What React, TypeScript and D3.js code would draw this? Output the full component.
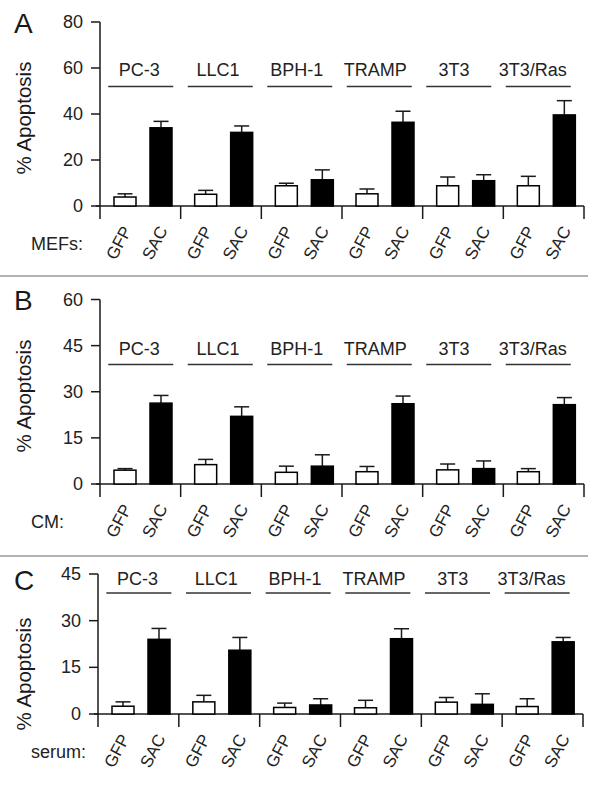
import React from "react";
import * as d3 from "d3";

const groups = ["PC-3", "LLC1", "BPH-1", "TRAMP", "3T3", "3T3/Ras"];
const treatments = ["GFP", "SAC"];
const panelLetters = ["A", "B", "C"];
const rowLabels = ["MEFs:", "CM:", "serum:"];
const yMaxes = [80, 60, 45];
const yTicks = [
  [0, 20, 40, 60, 80],
  [0, 15, 30, 45, 60],
  [0, 15, 30, 45],
];

// Panel A (MEFs)
const aGFP = [3.9, 5.1, 8.8, 5.3, 8.8, 8.8];
const aGFPErr = [1.4, 1.7, 1.1, 2.1, 3.8, 4.1];
const aSAC = [34.0, 32.0, 11.4, 36.4, 11.0, 39.6];
const aSACErr = [2.8, 2.8, 4.3, 4.8, 2.6, 6.2];
// Panel B (CM)
const bGFP = [4.5, 6.3, 3.8, 4.0, 4.6, 4.0];
const bGFPErr = [0.5, 1.7, 2.0, 1.7, 1.9, 1.0];
const bSAC = [26.3, 22.0, 5.8, 26.1, 5.0, 25.8];
const bSACErr = [2.5, 3.1, 3.7, 2.5, 2.5, 2.3];
// Panel C (serum)
const cGFP = [2.5, 3.9, 2.1, 2.0, 3.8, 2.4];
const cGFPErr = [1.4, 2.1, 1.4, 2.4, 1.5, 2.5];
const cSAC = [24.0, 20.5, 2.9, 24.2, 3.1, 23.2];
const cSACErr = [3.5, 4.1, 2.0, 3.2, 3.4, 1.4];

const panelValues = [
  { GFP: aGFP, GFPErr: aGFPErr, SAC: aSAC, SACErr: aSACErr },
  { GFP: bGFP, GFPErr: bGFPErr, SAC: bSAC, SACErr: bSACErr },
  { GFP: cGFP, GFPErr: cGFPErr, SAC: cSAC, SACErr: cSACErr },
];

const layouts = [
  { top: 22, base: 206, x0: 100, x1: 584, letterY: 33, labelY: 76, lineY: 86.5, titleY: 118 },
  { top: 299.5, base: 484, x0: 100, x1: 584, letterY: 310, labelY: 355, lineY: 364.5, titleY: 396 },
  { top: 574, base: 714, x0: 98, x1: 583, letterY: 590, labelY: 585, lineY: 593, titleY: 674 },
];

const FONT = "'Liberation Sans', Arial, sans-serif";
const INK = "#1a1a1a";

function Panel({ idx }: { idx: number }) {
  const L = layouts[idx];
  const vals = panelValues[idx] as any;
  const y = d3.scaleLinear().domain([0, yMaxes[idx]]).range([L.base, L.top]);
  const x = d3.scaleBand<string>().domain(groups).range([L.x0, L.x1]).padding(0);
  const step = x.step();
  const xLabel = d3.scaleBand<string>().domain(groups).range([L.x0, L.x1 - 12]);
  const xLine = d3.scaleBand<string>().domain(groups).range([L.x0 + 1, L.x1 - 6]);
  const inner = d3
    .scaleBand<string>()
    .domain(treatments)
    .range([14, 72])
    .paddingInner(0.389)
    .paddingOuter(0);
  const bw = inner.bandwidth();
  const capW = 15;

  return (
    <g>
      <text x={14} y={L.letterY} fontSize={28} fill={INK} fontFamily={FONT}>
        {panelLetters[idx]}
      </text>
      <g transform={`translate(23,${L.titleY})`}>
        <text
          transform="rotate(-90)"
          textAnchor="middle"
          dominantBaseline="central"
          fontSize={20.5}
          fill={INK}
          fontFamily={FONT}
        >
          % Apoptosis
        </text>
      </g>
      {/* y axis */}
      <line x1={L.x0} x2={L.x0} y1={L.top} y2={L.base + 13} stroke={INK} strokeWidth={1.5} />
      {yTicks[idx].map((t) => (
        <g key={t}>
          <line x1={L.x0 - 9} x2={L.x0} y1={y(t)} y2={y(t)} stroke={INK} strokeWidth={1.5} />
          <text
            x={L.x0 - 17}
            y={y(t)}
            textAnchor="end"
            dominantBaseline="central"
            fontSize={18}
            fill="#222"
            fontFamily={FONT}
          >
            {t}
          </text>
        </g>
      ))}
      {/* x axis */}
      <line x1={L.x0 - 4} x2={L.x1} y1={L.base} y2={L.base} stroke={INK} strokeWidth={1.5} />
      {groups.map((g) => (
        <line
          key={"sep" + g}
          x1={(x(g) as number) + step}
          x2={(x(g) as number) + step}
          y1={L.base}
          y2={L.base + 13}
          stroke={INK}
          strokeWidth={1.5}
        />
      ))}
      {/* group labels */}
      {groups.map((g) => {
        const tx = (xLabel(g) as number) + xLabel.bandwidth() / 2;
        const lx = (xLine(g) as number) + xLine.bandwidth() / 2;
        return (
          <g key={"lab" + g}>
            <text
              x={tx}
              y={L.labelY}
              textAnchor="middle"
              fontSize={18}
              fill="#222"
              fontFamily={FONT}
            >
              {g}
            </text>
            <line
              x1={lx - 32.5}
              x2={lx + 32.5}
              y1={L.lineY}
              y2={L.lineY}
              stroke="#333"
              strokeWidth={1.5}
            />
          </g>
        );
      })}
      {/* bars */}
      {groups.map((g, gi) =>
        treatments.map((t) => {
          const v = vals[t][gi];
          const e = vals[t + "Err"][gi];
          const bx = (x(g) as number) + (inner(t) as number);
          const cx = bx + bw / 2;
          return (
            <g key={g + t}>
              <line x1={cx} x2={cx} y1={y(v)} y2={y(v + e)} stroke={INK} strokeWidth={1.5} />
              <line
                x1={cx - capW / 2}
                x2={cx + capW / 2}
                y1={y(v + e)}
                y2={y(v + e)}
                stroke={INK}
                strokeWidth={1.5}
              />
              <rect
                x={bx}
                y={y(v)}
                width={bw}
                height={L.base - y(v)}
                fill={t === "SAC" ? "#000" : "#fff"}
                stroke="#000"
                strokeWidth={1.5}
              />
              <g transform={`translate(${cx - 6},${L.base + 37})`}>
                <text
                  transform="rotate(-62)"
                  textAnchor="middle"
                  dominantBaseline="central"
                  fontSize={17}
                  fill="#222"
                  fontFamily={FONT}
                >
                  {t}
                </text>
              </g>
            </g>
          );
        })
      )}
      <text x={31} y={L.base + 44} fontSize={18} fill="#222" fontFamily={FONT}>
        {rowLabels[idx]}
      </text>
    </g>
  );
}

export default function App() {
  return (
    <svg
      width={598}
      height={787}
      style={{ position: "absolute", left: 0, top: 0, background: "#fff" }}
    >
      <rect x={0} y={0} width={598} height={787} fill="#fff" />
      <line x1={0} x2={588} y1={276} y2={276} stroke="#999" strokeWidth={1.5} />
      <line x1={0} x2={588} y1={556} y2={556} stroke="#999" strokeWidth={1.5} />
      {[0, 1, 2].map((i) => (
        <Panel key={i} idx={i} />
      ))}
    </svg>
  );
}
